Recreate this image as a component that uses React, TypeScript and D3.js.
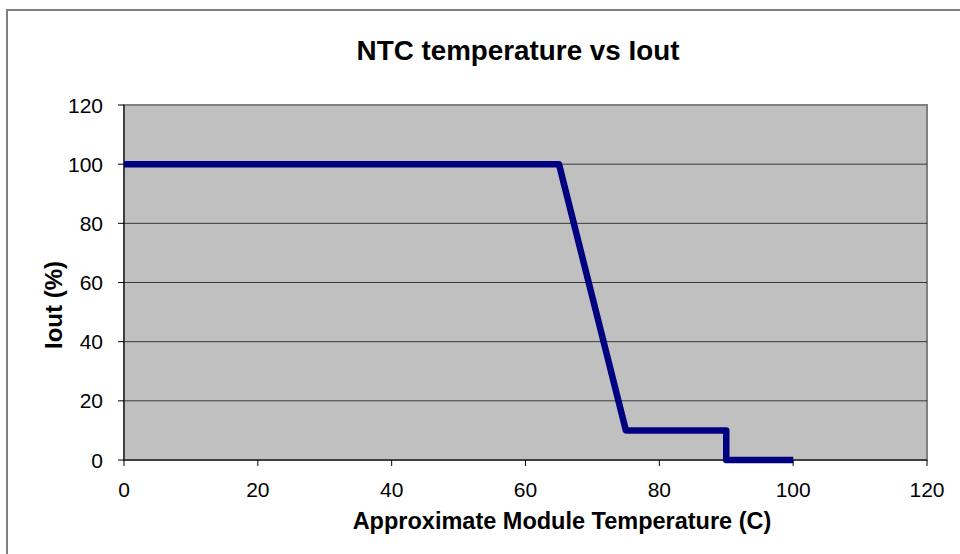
import React from 'react';
import * as d3 from 'd3';

const temps = [0, 65, 75, 90, 90, 100];
const iout = [100, 100, 10, 10, 0, 0];
const xTicks = [0, 20, 40, 60, 80, 100, 120];
const yTicks = [0, 20, 40, 60, 80, 100, 120];

const W = 960;
const H = 554;
const left = 124;
const right = 927;
const top = 105;
const bottom = 460;

export default function App() {
  const x = d3.scaleLinear().domain([0, 120]).range([left, right]);
  const y = d3.scaleLinear().domain([0, 120]).range([bottom, top]);
  const pts = temps.map((t, i) => [t, iout[i]] as [number, number]);
  const line = d3.line<[number, number]>().x(d => x(d[0])).y(d => y(d[1]));
  const font = '"Liberation Sans", Arial, sans-serif';

  return (
    <div style={{ position: 'absolute', left: 0, top: 0 }}>
      <svg width={W} height={H} style={{ display: 'block', background: '#fff' }} fontFamily={font}>
        {/* chart border, only top/left visible */}
        <rect x={7} y={10} width={W + 20} height={H + 20} fill="none" stroke="#808080" strokeWidth={2} />
        <text x={518} y={60} textAnchor="middle" fontSize={27.8} fontWeight="bold" fill="#000">
          NTC temperature vs Iout
        </text>
        <rect x={left} y={top} width={right - left} height={bottom - top} fill="#c0c0c0" stroke="#808080" strokeWidth={2} />
        {yTicks.filter(v => v > 0 && v < 120).map(v => (
          <line key={v} x1={left} x2={right} y1={y(v)} y2={y(v)} stroke="#000" strokeOpacity={0.7} strokeWidth={1} />
        ))}
        {/* axes */}
        <line x1={left} x2={left} y1={top} y2={bottom} stroke="#000" strokeWidth={1} />
        <line x1={left} x2={right} y1={bottom} y2={bottom} stroke="#000" strokeWidth={1} />
        {yTicks.map(v => (
          <g key={'y' + v}>
            <line x1={left - 6} x2={left} y1={y(v)} y2={y(v)} stroke="#000" strokeWidth={1} />
            <text x={103} y={y(v)} dy="0.36em" textAnchor="end" fontSize={21} fill="#000">{v}</text>
          </g>
        ))}
        {xTicks.map(v => (
          <g key={'x' + v}>
            <line x1={x(v)} x2={x(v)} y1={bottom} y2={bottom + 6} stroke="#000" strokeWidth={1} />
            <text x={x(v)} y={497} textAnchor="middle" fontSize={21} fill="#000">{v}</text>
          </g>
        ))}
        <path d={line(pts) ?? ''} fill="none" stroke="#000080" strokeWidth={6.5} strokeLinejoin="round" />
        <text x={562} y={529} textAnchor="middle" fontSize={23.5} fontWeight="bold" fill="#000">
          Approximate Module Temperature (C)
        </text>
        <text transform="translate(62,305) rotate(-90)" textAnchor="middle" fontSize={24} fontWeight="bold" fill="#000">
          Iout (%)
        </text>
      </svg>
    </div>
  );
}
